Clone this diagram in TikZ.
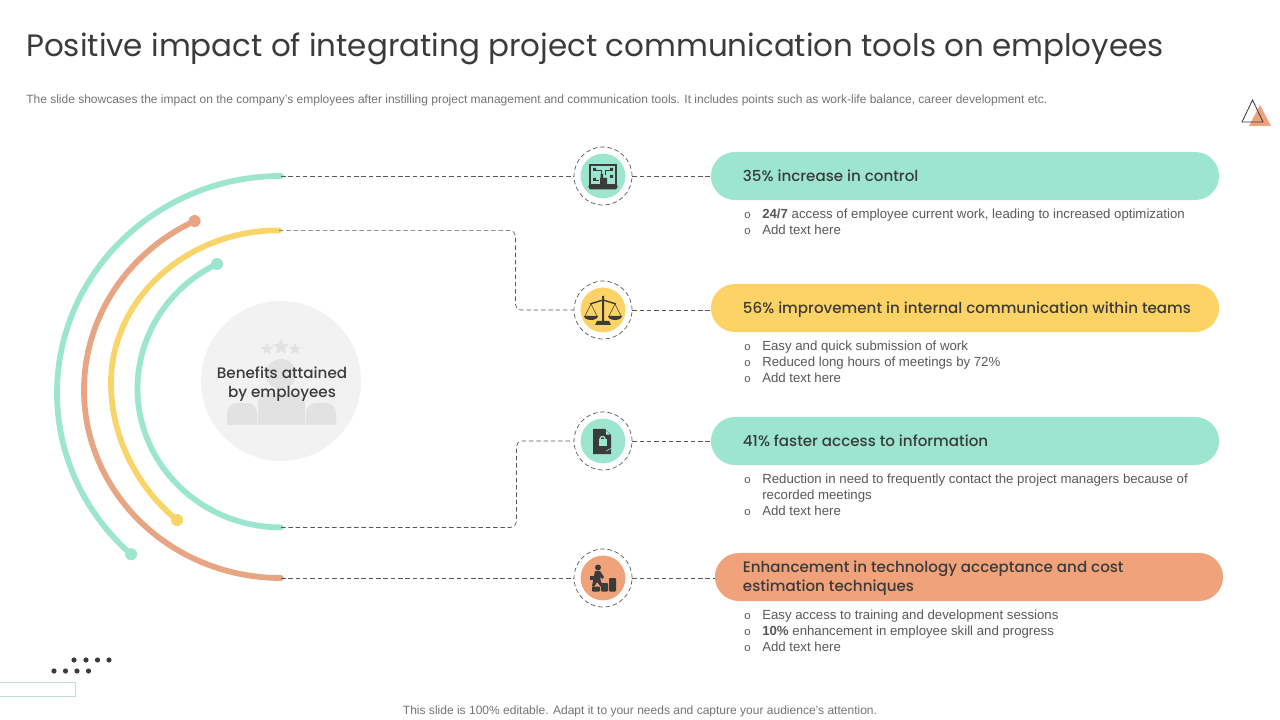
\documentclass[tikz,border=0pt]{standalone}
\usepackage{fontspec}
\setmainfont{Liberation Sans}
\newfontfamily\headfont{Poppins}
\newfontfamily\boldhead{Poppins Medium}
\usetikzlibrary{positioning,shapes.geometric,shapes.misc}
\definecolor{tealc}{HTML}{9CE5CF}
\definecolor{yellowc}{HTML}{FED366}
\definecolor{orangec}{HTML}{F0A27A}
\definecolor{armorange}{HTML}{E8A583}
\definecolor{armyellow}{HTML}{F9D469}
\definecolor{inkc}{HTML}{3B3B3B}
\definecolor{crowdc}{HTML}{E2E2E2}
\tikzset{
  arm/.style={line width=4.1pt,line cap=round},
  link/.style={draw=inkc!85,line width=0.5pt,dash pattern=on 3.2pt off 2pt},
  ring/.style={draw=inkc!85,circle,line width=0.5pt,dash pattern=on 3.2pt off 2pt,minimum size=1.45cm,inner sep=0pt},
  core/.style={circle,minimum size=1.12cm,inner sep=0pt},
  pill/.style={rounded rectangle,minimum width=12.7cm,minimum height=1.2cm,inner sep=0pt},
  headtext/.style={font=\boldhead\fontsize{10.75}{13.6}\selectfont,text=inkc,align=left,inner sep=0pt,text height=9.5pt,text depth=1.8pt},
  bullets/.style={font=\fontsize{9.4}{11.4}\selectfont,text=inkc!85,align=left,inner sep=0pt,anchor=north west},
  icon/.style={fill=inkc,draw=none},
}
\newcommand{\bul}{\makebox[0.45cm][l]{\footnotesize o}}
\begin{document}
\begin{tikzpicture}[x=0.025cm,y=0.025cm]
\useasboundingbox (0,0) rectangle (1280,-720);
% heading
\node[anchor=west,inner sep=0pt,font=\headfont\fontsize{22}{28}\selectfont,text=inkc] (title) at (26,-49) {Positive impact of integrating project communication tools on employees};
\node[anchor=west,inner sep=0pt,font=\fontsize{8.53}{10}\selectfont,text=black!55] (subtitle) at (26,-100) {The slide showcases the impact on the company's employees after instilling project management and communication tools. It includes points such as work-life balance, career development etc.};
\node[inner sep=0pt,font=\fontsize{8.55}{10}\selectfont,text=black!55] (footer) at (640,-711) {This slide is 100\% editable. Adapt it to your needs and capture your audience's attention.};
% corner marks
\fill[orangec] (1260,-105) -- (1249,-126) -- (1271,-126) -- cycle;
\draw[inkc,line width=0.6pt] (1252.5,-100) -- (1242,-122) -- (1263,-122) -- cycle;
\fill[inkc] (74,-660) circle (2.6) (86,-660) circle (2.6) (97.5,-660) circle (2.6) (109,-660) circle (2.6)
  (54,-671) circle (2.6) (65.5,-671) circle (2.6) (77,-671) circle (2.6) (88.5,-671) circle (2.6);
\draw[tealc!70!gray!60,line width=0.6pt] (-2,-682.5) rectangle (75.5,-696.5);
% arcs
\coordinate (armA) at (281,-176);
\coordinate (armB) at (279,-230.4);
\coordinate (armC) at (281,-527.4);
\coordinate (armD) at (281,-578);
\draw[arm,tealc] (armA) arc[start angle=90,end angle=228,x radius=224,y radius=217] coordinate (tipA);
\fill[tealc] (tipA) circle (6);
\draw[arm,armorange] (armD) arc[start angle=270,end angle=116,x radius=197,y radius=188] coordinate (tipD);
\fill[armorange] (tipD) circle (6);
\draw[arm,armyellow] (armB) .. controls (187,-230) and (111,-299) .. (111,-383) .. controls (111,-440) and (140,-490) .. (177,-520) coordinate (tipB);
\fill[armyellow] (tipB) circle (6);
\draw[arm,tealc] (armC) arc[start angle=270,end angle=116.5,x radius=143.5,y radius=139] coordinate (tipC);
\fill[tealc] (tipC) circle (6);
% centre
\node[circle,fill=black!5,minimum size=4cm,inner sep=0pt] (hub) at (281,-381) {};
\node[star,star points=5,star point ratio=2.2,fill=crowdc,minimum size=0.42cm,inner sep=0pt] (starB) at (281,-347) {};
\node[star,star points=5,star point ratio=2.2,fill=crowdc,minimum size=0.32cm,inner sep=0pt] (starA) at (267,-349) {};
\node[star,star points=5,star point ratio=2.2,fill=crowdc,minimum size=0.32cm,inner sep=0pt] (starC) at (295,-349) {};
\fill[crowdc] (281,-374) circle (15);
\fill[crowdc] (258,-425) [rounded corners=8pt] -- (258,-393) -- (305,-393) [sharp corners] -- (305,-425) -- cycle;
\fill[crowdc] (227,-425) [rounded corners=7pt] -- (227,-403) -- (257,-403) [sharp corners] -- (257,-425) -- cycle;
\fill[crowdc] (306,-425) [rounded corners=7pt] -- (306,-403) -- (336,-403) [sharp corners] -- (336,-425) -- cycle;
\node[align=center,inner sep=0pt,font=\boldhead\fontsize{10.8}{13.6}\selectfont,text=inkc] (hubtext) at (282,-384) {Benefits attained\\by employees};
% badges
\node[ring] (ringA) at (603,-176) {};
\node[core,fill=tealc] (coreA) at (ringA) {};
\node[ring] (ringB) at (603,-310) {};
\node[core,fill=yellowc] (coreB) at (ringB) {};
\node[ring] (ringC) at (603,-441) {};
\node[core,fill=tealc] (coreC) at (ringC) {};
\node[ring] (ringD) at (603,-578) {};
\node[core,fill=orangec] (coreD) at (ringD) {};
% pills
\node[pill,fill=tealc] (pillA) at (965,-176) {};
\node[pill,fill=yellowc] (pillB) at (965,-308) {};
\node[pill,fill=tealc] (pillC) at (965,-441) {};
\node[pill,fill=orangec] (pillD) at (969,-577) {};
\node[headtext,right=0.8cm of pillA.west] (headA) {35\% increase in control};
\node[headtext,right=0.8cm of pillB.west] (headB) {56\% improvement in internal communication within teams};
\node[headtext,right=0.8cm of pillC.west] (headC) {41\% faster access to information};
\node[headtext,right=0.7cm of pillD.west,text height=,text depth=,yshift=-0.03cm] (headD) {Enhancement in technology acceptance and cost\\estimation techniques};
% lists
\node[bullets] (listA) at (744,-208.5) {\bul\textbf{24/7} access of employee current work, leading to increased optimization\\\bul Add text here};
\node[bullets] (listB) at (744,-340.5) {\bul Easy and quick submission of work\\\bul Reduced long hours of meetings by 72\%\\\bul Add text here};
\node[bullets] (listC) at (744,-473.5) {\bul Reduction in need to frequently contact the project managers because of\\\hspace*{0.45cm}recorded meetings\\\bul Add text here};
\node[bullets] (listD) at (744,-609.5) {\bul Easy access to training and development sessions\\\bul\textbf{10\%} enhancement in employee skill and progress\\\bul Add text here};
% connectors
\coordinate (bendB) at (515.4,-310);
\coordinate (bendC) at (516.4,-441);
\draw[link] (armA) -- (ringA.west);
\draw[link] (ringA.east) -- (pillA.west);
\draw[link,rounded corners=4pt] (armB) -| (bendB) -- (ringB.west);
\draw[link] (ringB.east) -- (pillB.west |- ringB.east);
\draw[link,rounded corners=4pt] (armC) -| (bendC) -- (ringC.west);
\draw[link] (ringC.east) -- (pillC.west);
\draw[link] (armD) -- (ringD.west);
\draw[link] (ringD.east) -- (pillD.west |- ringD.east);
% laptop
\draw[inkc,line width=1.1pt] (590,-165) rectangle (616,-185);
\fill[icon] (588,-186) -- (618,-186) -- (616,-189.5) -- (590,-189.5) -- cycle;
\fill[icon] (593,-168) rectangle (596,-171) (610,-168) rectangle (613,-171) (593,-178) rectangle (596,-181) (610,-175) rectangle (613,-178);
\draw[inkc,line width=0.5pt] (596,-170) -- (601,-170) -- (601,-175) (610,-170) -- (605,-170) -- (605,-175) (596,-180) -- (599,-180);
\fill[icon] (600.5,-174) rectangle (603,-180) (600,-178) rectangle (607,-184.5);
% scales
\fill[icon] (602,-296) rectangle (604,-321) (595,-325) -- (597,-321) -- (609,-321) -- (611,-325) -- cycle;
\draw[inkc,line width=1pt] (590,-304) -- (603,-300) -- (616,-304);
\draw[inkc,line width=0.4pt] (591,-304) -- (585,-316) (591,-304) -- (597,-316) (615,-304) -- (609,-316) (615,-304) -- (621,-316);
\fill[icon] (584,-316) arc[start angle=180,end angle=360,x radius=7,y radius=4] -- cycle;
\fill[icon] (608,-316) arc[start angle=180,end angle=360,x radius=7,y radius=4] -- cycle;
% document
\fill[icon] (593,-429) -- (605,-429) -- (611,-435) -- (611,-454) -- (593,-454) -- cycle;
\fill[tealc] (606,-430) -- (610,-434.5) -- (606,-434.5) -- cycle;
\fill[tealc] (598.5,-439) rectangle (606.5,-446);
\draw[tealc,line width=0.9pt] (600,-439) arc[start angle=180,end angle=0,radius=2.5];
\draw[tealc,line width=0.4pt] (606,-451) -- (612,-448);
% climber
\fill[icon] (598,-567.5) circle (3);
\fill[icon] (595,-571) -- (600,-571) -- (604,-577) -- (602,-579) -- (600,-577) -- (601,-582) -- (604,-586) -- (601,-587) -- (597,-582) -- (594,-587) -- (592,-586) -- cycle;
\fill[icon] (590,-576) rectangle (594,-579.5);
\fill[icon,rounded corners=0.6pt] (592,-586.5) rectangle (600,-591.5) (601,-583) rectangle (608,-591.5) (609,-578) rectangle (616,-591.5);
\end{tikzpicture}
\end{document}
